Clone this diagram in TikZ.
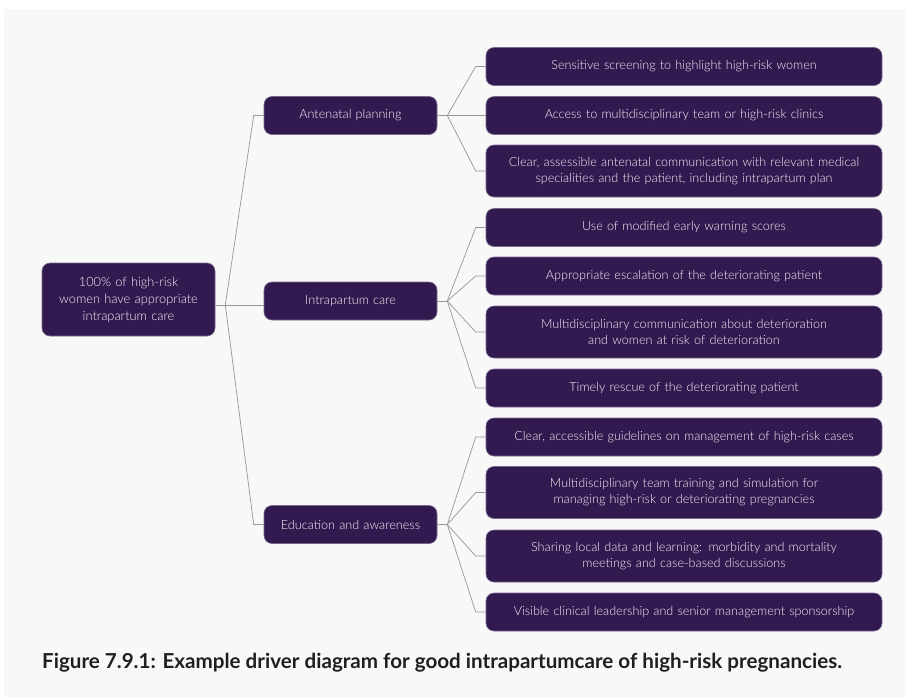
\documentclass[tikz,border=0pt]{standalone}
\usepackage{fontspec}
\setmainfont{Lato}
\IfFontExistsTF{Lato Light}{\newfontfamily\boxfont{Lato Light}}{\newfontfamily\boxfont{Lato}}
\usetikzlibrary{calc}
\definecolor{boxfill}{RGB}{50,25,80}
\definecolor{boxline}{RGB}{120,105,140}
\definecolor{conn}{RGB}{150,150,150}
\definecolor{bg}{RGB}{248,248,248}
\definecolor{boxtext}{RGB}{244,242,248}
\tikzset{
  x=1pt,y=-1pt,
  pbox/.style={draw=boxline, line width=0.6pt, fill=boxfill, rounded corners=8pt,
    text=boxtext, align=center, inner sep=0pt, font=\boxfont\fontsize{12.6}{16}\selectfont},
  rootbox/.style={pbox, minimum width=173pt, minimum height=73pt, text width=160pt,
    font=\boxfont\fontsize{12.8}{17}\selectfont},
  midbox/.style={pbox, minimum width=173pt, minimum height=38pt, text width=165pt},
  leafbox/.style={pbox, minimum width=396pt, minimum height=38pt, text width=385pt},
  leaftall/.style={leafbox, minimum height=52pt},
  conn/.style={draw=conn, line width=0.7pt},
}
\begin{document}
\begin{tikzpicture}
\useasboundingbox (0,0) rectangle (905,697);
\fill[white] (0,0) rectangle (905,697);
\fill[bg] (4,9) rectangle (905,697);

\node[rootbox] (root) at (128.5,299.5) {100\% of high-risk\\women have appropriate\\intrapartum care};

\node[midbox] (ant) at (350.5,115.5) {Antenatal planning};
\node[midbox] (intra) at (350.5,301) {Intrapartum care};
\node[midbox] (edu) at (350.5,524.5) {Education and awareness};

\node[leafbox] (a1) at (684,66.5) {Sensitive screening to highlight high-risk women};
\node[leafbox] (a2) at (684,115.5) {Access to multidisciplinary team or high-risk clinics};
\node[leaftall] (a3) at (684,171) {Clear, assessible antenatal communication with relevant medical\\specialities and the patient, including intrapartum plan};

\node[leafbox] (i1) at (684,227.5) {Use of modified early warning scores};
\node[leafbox] (i2) at (684,276) {Appropriate escalation of the deteriorating patient};
\node[leaftall] (i3) at (684,332) {Multidisciplinary communication about deterioration\\and women at risk of deterioration};
\node[leafbox] (i4) at (684,388) {Timely rescue of the deteriorating patient};

\node[leafbox] (e1) at (684,437) {Clear, accessible guidelines on management of high-risk cases};
\node[leaftall] (e2) at (684,492.5) {Multidisciplinary team training and simulation for\\managing high-risk or deteriorating pregnancies};
\node[leaftall] (e3) at (684,556) {Sharing local data and learning: morbidity and mortality\\meetings and case-based discussions};
\node[leafbox] (e4) at (684,612) {Visible clinical leadership and senior management sponsorship};

% root connectors
\coordinate (rj) at ($(root.east)+(10,5.5)$);
\draw[conn] ($(root.east)+(0,5.5)$) -- (rj);
\foreach \m in {ant,edu} {
  \draw[conn] (rj) -- ($(\m.west)+(-10,0)$) -- (\m.west);
}
\draw[conn] (rj) -- ($(intra.west)+(0,4)$);

% middle connectors
\foreach \m/\list in {ant/{a1,a2,a3}, intra/{i1,i2,i3,i4}, edu/{e1,e2,e3,e4}} {
  \draw[conn] (\m.east) -- ++(10,0) coordinate (j);
  \foreach \c in \list {
    \draw[conn] (j) -- ($(\c.west)+(-10,0)$) -- (\c.west);
  }
}

\node[anchor=base west, inner sep=0pt, font=\bfseries\fontsize{20.6}{24}\selectfont, text=black!88] (cap) at (42,668)
  {Figure 7.9.1: Example driver diagram for good intrapartumcare of high-risk pregnancies.};
\end{tikzpicture}
\end{document}
